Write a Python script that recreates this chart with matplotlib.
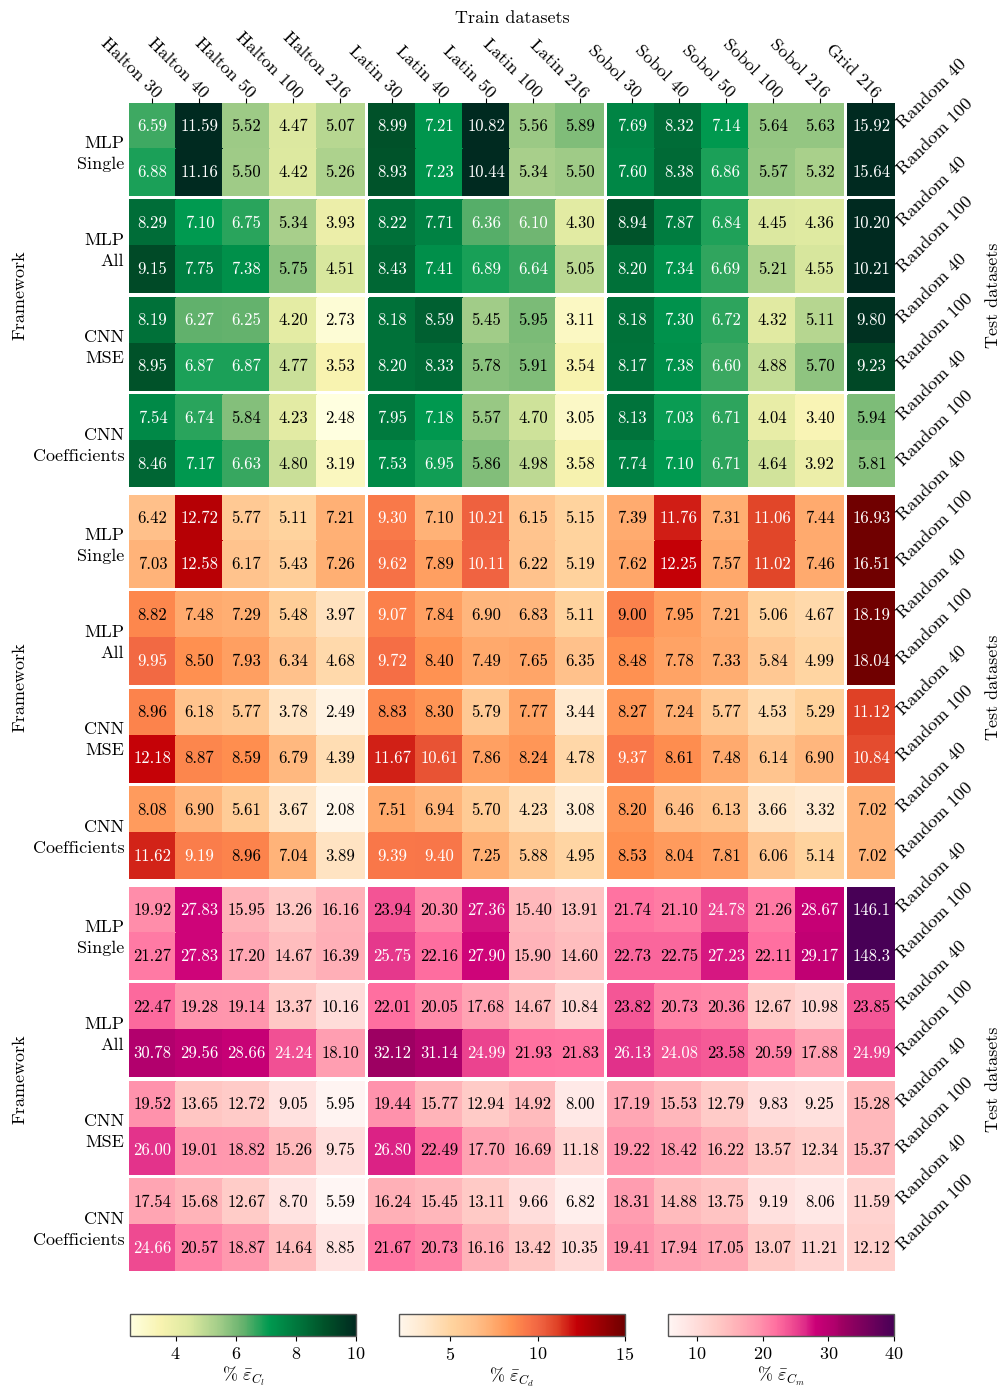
import numpy as np
import matplotlib
matplotlib.use('Agg')
import matplotlib.pyplot as plt
import matplotlib.transforms as mtransforms
from matplotlib.colors import LinearSegmentedColormap, Normalize
from matplotlib.cm import ScalarMappable

plt.rcParams['font.family'] = 'serif'
plt.rcParams['font.serif'] = ['cmr10']
plt.rcParams['mathtext.fontset'] = 'cm'
plt.rcParams['axes.formatter.use_mathtext'] = True
plt.rcParams['axes.unicode_minus'] = False

train_sets = ['Halton 30', 'Halton 40', 'Halton 50', 'Halton 100', 'Halton 216',
              'Latin 30', 'Latin 40', 'Latin 50', 'Latin 100', 'Latin 216',
              'Sobol 30', 'Sobol 40', 'Sobol 50', 'Sobol 100', 'Sobol 216',
              'Grid 216']
test_sets = ['Random 40', 'Random 100']
frameworks = ['MLP\nSingle', 'MLP\nAll', 'CNN\nMSE', 'CNN\nCoefficients']

# rows: framework x test set (R40, R100), columns: train sets
err_cl = np.array([
    [6.59, 11.59, 5.52, 4.47, 5.07, 8.99, 7.21, 10.82, 5.56, 5.89, 7.69, 8.32, 7.14, 5.64, 5.63, 15.92],
    [6.88, 11.16, 5.50, 4.42, 5.26, 8.93, 7.23, 10.44, 5.34, 5.50, 7.60, 8.38, 6.86, 5.57, 5.32, 15.64],
    [8.29, 7.10, 6.75, 5.34, 3.93, 8.22, 7.71, 6.36, 6.10, 4.30, 8.94, 7.87, 6.84, 4.45, 4.36, 10.20],
    [9.15, 7.75, 7.38, 5.75, 4.51, 8.43, 7.41, 6.89, 6.64, 5.05, 8.20, 7.34, 6.69, 5.21, 4.55, 10.21],
    [8.19, 6.27, 6.25, 4.20, 2.73, 8.18, 8.59, 5.45, 5.95, 3.11, 8.18, 7.30, 6.72, 4.32, 5.11, 9.80],
    [8.95, 6.87, 6.87, 4.77, 3.53, 8.20, 8.33, 5.78, 5.91, 3.54, 8.17, 7.38, 6.60, 4.88, 5.70, 9.23],
    [7.54, 6.74, 5.84, 4.23, 2.48, 7.95, 7.18, 5.57, 4.70, 3.05, 8.13, 7.03, 6.71, 4.04, 3.40, 5.94],
    [8.46, 7.17, 6.63, 4.80, 3.19, 7.53, 6.95, 5.86, 4.98, 3.58, 7.74, 7.10, 6.71, 4.64, 3.92, 5.81],
])
err_cd = np.array([
    [6.42, 12.72, 5.77, 5.11, 7.21, 9.30, 7.10, 10.21, 6.15, 5.15, 7.39, 11.76, 7.31, 11.06, 7.44, 16.93],
    [7.03, 12.58, 6.17, 5.43, 7.26, 9.62, 7.89, 10.11, 6.22, 5.19, 7.62, 12.25, 7.57, 11.02, 7.46, 16.51],
    [8.82, 7.48, 7.29, 5.48, 3.97, 9.07, 7.84, 6.90, 6.83, 5.11, 9.00, 7.95, 7.21, 5.06, 4.67, 18.19],
    [9.95, 8.50, 7.93, 6.34, 4.68, 9.72, 8.40, 7.49, 7.65, 6.35, 8.48, 7.78, 7.33, 5.84, 4.99, 18.04],
    [8.96, 6.18, 5.77, 3.78, 2.49, 8.83, 8.30, 5.79, 7.77, 3.44, 8.27, 7.24, 5.77, 4.53, 5.29, 11.12],
    [12.18, 8.87, 8.59, 6.79, 4.39, 11.67, 10.61, 7.86, 8.24, 4.78, 9.37, 8.61, 7.48, 6.14, 6.90, 10.84],
    [8.08, 6.90, 5.61, 3.67, 2.08, 7.51, 6.94, 5.70, 4.23, 3.08, 8.20, 6.46, 6.13, 3.66, 3.32, 7.02],
    [11.62, 9.19, 8.96, 7.04, 3.89, 9.39, 9.40, 7.25, 5.88, 4.95, 8.53, 8.04, 7.81, 6.06, 5.14, 7.02],
])
err_cm = np.array([
    [19.92, 27.83, 15.95, 13.26, 16.16, 23.94, 20.30, 27.36, 15.40, 13.91, 21.74, 21.10, 24.78, 21.26, 28.67, 146.1],
    [21.27, 27.83, 17.20, 14.67, 16.39, 25.75, 22.16, 27.90, 15.90, 14.60, 22.73, 22.75, 27.23, 22.11, 29.17, 148.3],
    [22.47, 19.28, 19.14, 13.37, 10.16, 22.01, 20.05, 17.68, 14.67, 10.84, 23.82, 20.73, 20.36, 12.67, 10.98, 23.85],
    [30.78, 29.56, 28.66, 24.24, 18.10, 32.12, 31.14, 24.99, 21.93, 21.83, 26.13, 24.08, 23.58, 20.59, 17.88, 24.99],
    [19.52, 13.65, 12.72, 9.05, 5.95, 19.44, 15.77, 12.94, 14.92, 8.00, 17.19, 15.53, 12.79, 9.83, 9.25, 15.28],
    [26.00, 19.01, 18.82, 15.26, 9.75, 26.80, 22.49, 17.70, 16.69, 11.18, 19.22, 18.42, 16.22, 13.57, 12.34, 15.37],
    [17.54, 15.68, 12.67, 8.70, 5.59, 16.24, 15.45, 13.11, 9.66, 6.82, 18.31, 14.88, 13.75, 9.19, 8.06, 11.59],
    [24.66, 20.57, 18.87, 14.64, 8.85, 21.67, 20.73, 16.16, 13.42, 10.35, 19.41, 17.94, 17.05, 13.07, 11.21, 12.12],
])

cmap_cl = LinearSegmentedColormap.from_list('cl', [
    (0.0, '#ffffe0'), (0.136, '#f8f3b0'), (0.26, '#dde9a0'), (0.40, '#9fcb87'),
    (0.50, '#66b26e'), (0.615, '#009a50'), (0.77, '#006e38'), (0.87, '#005028'),
    (1.0, '#002a20')])
cmap_cd = LinearSegmentedColormap.from_list('cd', [
    (0.0, '#fff7ec'), (0.11, '#ffe8cc'), (0.234, '#ffd39e'), (0.334, '#ffc08a'),
    (0.404, '#ffae72'), (0.497, '#ff9050'), (0.574, '#f87448'), (0.628, '#ef6240'),
    (0.698, '#e04428'), (0.787, '#c40006'), (1.0, '#700000')])
cmap_cm = LinearSegmentedColormap.from_list('cm', [
    (0.0, '#fff6f4'), (0.099, '#ffe2e0'), (0.215, '#ffcac6'), (0.303, '#ffb2b8'),
    (0.404, '#ff92ac'), (0.477, '#ff70a0'), (0.55, '#ef4c92'), (0.608, '#de2a88'),
    (0.651, '#cc0078'), (0.738, '#b0006c'), (0.77, '#9e0062'), (1.0, '#480056')])

blocks = [
    (err_cl, cmap_cl, 10, 6.0, [4, 6, 8, 10], r'$\%\ \bar{\varepsilon}_{C_l}$'),
    (err_cd, cmap_cd, 15, 9.03, [5, 10, 15], r'$\%\ \bar{\varepsilon}_{C_d}$'),
    (err_cm, cmap_cm, 40, 24.0, [10, 20, 30, 40], r'$\%\ \bar{\varepsilon}_{C_m}$'),
]

W, H = 1007, 1388
fig = plt.figure(figsize=(W / 100, H / 100), dpi=100)

def px_axes(x0, y0, x1, y1):
    return fig.add_axes([x0 / W, 1 - y1 / H, (x1 - x0) / W, (y1 - y0) / H])

gap_c = 0.105
gap_r = 0.11
col_groups = [(0, 5), (5, 10), (10, 15), (15, 16)]
block_tops = [103, 495, 887]
fs = 13
annot_fs = 12

xmax = 16 + 3 * gap_c
ymax = 8 + 3 * gap_r

for b, (data, cmap, vmax, thr, ticks, label) in enumerate(blocks):
    norm = Normalize(vmin=data.min(), vmax=vmax)
    top = block_tops[b]
    ax = px_axes(129, top, 895, top + 384)
    for p in range(4):
        for g, (c0, c1) in enumerate(col_groups):
            xe = np.arange(c0, c1 + 1) + g * gap_c
            ye = np.arange(2 * p, 2 * p + 3) + p * gap_r
            ax.pcolormesh(xe, ye, data[2 * p:2 * p + 2, c0:c1], cmap=cmap, norm=norm,
                          edgecolor='face', linewidth=0.3)
            for i in range(2 * p, 2 * p + 2):
                for j in range(c0, c1):
                    v = data[i, j]
                    s = f'{v:.2f}' if v < 100 else f'{v:.1f}'
                    ax.text(j + 0.5 + g * gap_c, i + 0.5 + p * gap_r, s,
                            ha='center', va='center', fontsize=annot_fs,
                            color='white' if v > thr else 'black')
    ax.set_xlim(0, xmax)
    ax.set_ylim(ymax, 0)
    for sp in ax.spines.values():
        sp.set_visible(False)
    ax.set_yticks([])
    if b == 0:
        centers = [j + 0.5 + min(j // 5, 3) * gap_c for j in range(16)]
        ax.xaxis.tick_top()
        ax.set_xticks(centers)
        ax.set_xticklabels(train_sets, rotation=-45, ha='right', va='center',
                           rotation_mode='anchor', fontsize=fs)
        ax.tick_params(axis='x', length=3.5, width=0.8, pad=4)
        shift = mtransforms.ScaledTranslation(0.06, -0.03, fig.dpi_scale_trans)
        for lab in ax.get_xticklabels():
            lab.set_transform(lab.get_transform() + shift)
        ax.text(0.5, 1 + (103 - 18) / 384, 'Train datasets', transform=ax.transAxes,
                ha='center', va='center', fontsize=fs)
    else:
        ax.set_xticks([])

    for p, fw in enumerate(frameworks):
        ax.text(-0.1, 2 * p + 1.1 + p * gap_r, fw, ha='right', va='center',
                multialignment='right', fontsize=fs, linespacing=1.45)
    for i in range(8):
        ax.text(xmax + 0.1, i + 0.5 + (i // 2) * gap_r, test_sets[i % 2],
                rotation=45, rotation_mode='anchor', ha='left', va='center', fontsize=fs)
    ax.text((20 - 129) / 766, 0.5, 'Framework', rotation=90, transform=ax.transAxes,
            ha='center', va='center', fontsize=fs)
    ax.text((993 - 129) / 766, 0.5, 'Test datasets', rotation=90, transform=ax.transAxes,
            ha='center', va='center', fontsize=fs)

    # colorbar
    cx0 = [130, 399, 668][b]
    cax = px_axes(cx0, 1314, cx0 + 226, 1336)
    cb = fig.colorbar(ScalarMappable(norm=norm, cmap=cmap), cax=cax, orientation='horizontal')
    cb.set_ticks(ticks)
    cb.ax.tick_params(labelsize=fs, length=3.5, width=0.8)
    cb.outline.set_edgecolor('#555555')
    cb.outline.set_linewidth(1.0)
    cb.set_label(label, fontsize=fs, labelpad=2)

fig.savefig('out.png', dpi=100)
